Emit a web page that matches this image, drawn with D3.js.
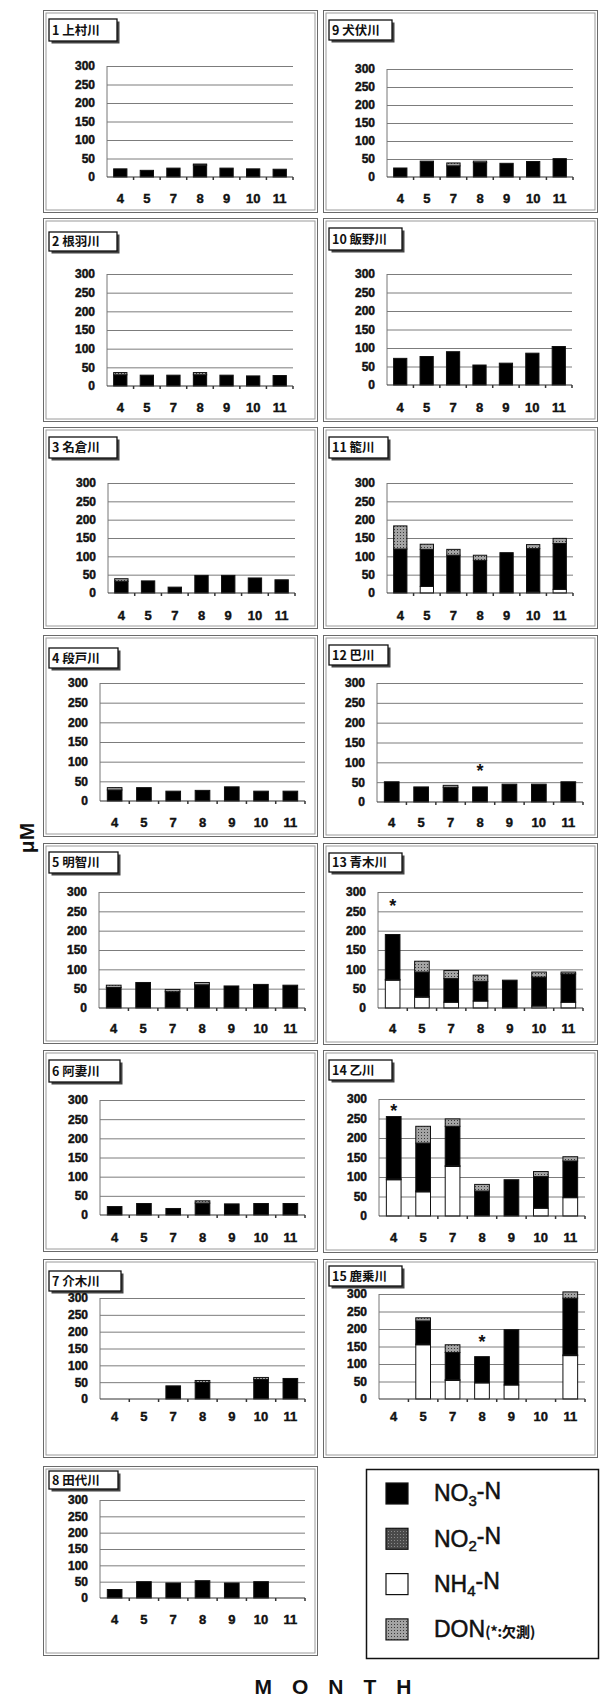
<!DOCTYPE html>
<html><head><meta charset="utf-8">
<script src="https://cdn.jsdelivr.net/npm/d3@7"></script>
<style>
body{margin:0;background:#fff}
svg{display:block}
</style>
</head><body>
<script>
// Sampling months and river names (panel titles)
const months = ["4", "5", "7", "8", "9", "10", "11"];
const rivers = ["1 上村川", "2 根羽川", "3 名倉川", "4 段戸川", "5 明智川", "6 阿妻川", "7 介木川", "8 田代川",
                "9 犬伏川", "10 飯野川", "11 籠川", "12 巴川", "13 青木川", "14 乙川", "15 鹿乗川"];
const yTicks = [0, 50, 100, 150, 200, 250, 300];

// Concentrations in μM, one row per river, one value per month (null = not sampled)
const nh4 = [
  [0, 0, 0, 0, 0, 0, 0],
  [0, 0, 0, 0, 0, 0, 0],
  [0, 0, 0, 0, 0, 0, 0],
  [0, 0, 0, 0, 0, 0, 0],
  [0, 0, 0, 0, 0, 0, 0],
  [0, 0, 0, 0, 0, 0, 0],
  [null, null, 0, 0, null, 0, 0],
  [0, 0, 0, 0, 0, 0, null],
  [0, 0, 0, 0, 0, 0, 0],
  [0, 0, 0, 0, 0, 0, 0],
  [0, 18, 3, 0, 0, 3, 10],
  [0, 0, 0, 0, 0, 0, 0],
  [72, 28, 15, 18, 0, 5, 15],
  [93, 62, 127, 0, 0, 20, 47],
  [null, 155, 53, 46, 40, null, 124]
];
const no2 = [
  [0, 0, 0, 0, 0, 0, 0],
  [0, 0, 0, 0, 0, 0, 0],
  [0, 0, 0, 0, 0, 0, 0],
  [0, 0, 0, 0, 0, 0, 0],
  [0, 0, 0, 0, 0, 0, 0],
  [0, 0, 0, 0, 0, 0, 0],
  [null, null, 0, 0, null, 0, 0],
  [0, 0, 0, 0, 0, 0, null],
  [0, 0, 0, 0, 0, 0, 0],
  [0, 0, 0, 0, 0, 0, 0],
  [0, 0, 0, 0, 0, 0, 0],
  [0, 0, 0, 0, 0, 0, 0],
  [2, 2, 0, 0, 0, 0, 0],
  [2, 2, 2, 0, 0, 0, 0],
  [null, 2, 2, 0, 0, null, 2]
];
const no3 = [
  [22, 18, 24, 32, 24, 22, 21],
  [30, 29, 29, 30, 29, 27, 28],
  [32, 33, 16, 48, 48, 41, 36],
  [28, 34, 25, 27, 36, 25, 25],
  [53, 66, 42, 60, 57, 61, 59],
  [22, 30, 17, 31, 29, 30, 30],
  [null, null, 39, 49, null, 58, 61],
  [26, 50, 46, 53, 46, 50, null],
  [25, 44, 31, 40, 38, 43, 51],
  [72, 77, 90, 54, 59, 86, 104],
  [120, 101, 100, 89, 110, 118, 125],
  [51, 38, 37, 38, 45, 45, 51],
  [116, 63, 61, 51, 72, 75, 73],
  [160, 123, 101, 64, 93, 81, 94],
  [null, 66, 78, 75, 158, null, 162]
];
const don = [
  [0, 0, 0, 3, 0, 0, 0],
  [6, 0, 0, 6, 0, 0, 0],
  [7, 0, 0, 0, 0, 0, 0],
  [6, 0, 0, 0, 0, 0, 0],
  [6, 0, 6, 6, 0, 0, 0],
  [0, 0, 0, 6, 0, 0, 0],
  [null, null, 0, 6, null, 6, 0],
  [0, 0, 0, 0, 0, 0, null],
  [0, 0, 8, 4, 0, 0, 0],
  [0, 0, 0, 0, 0, 0, 0],
  [63, 14, 16, 14, 0, 11, 14],
  [0, 0, 5, 0, 0, 0, 0],
  [0, 28, 21, 16, 0, 13, 5],
  [0, 43, 19, 17, 0, 13, 11],
  [null, 9, 22, 0, 0, null, 18]
];
// DON not measured: [river index, month index, height of the * mark in μM]
const donMissing = [[11, 3, 88], [12, 0, 274], [13, 0, 280], [14, 3, 173]];

const seriesKeys = ["NH4", "NO2", "NO3", "DON"];       // stacking order, bottom to top
const legendKeys = ["NO3", "NO2", "NH4", "DON"];       // legend order

// Panel frames: box, title box, plot area (x0, y at 300, x1, y at 0), month label line
const L = {x0: 43, x1: 318}, R = {x0: 323, x1: 598};
const panels = [
  {c: L, y0: 10,   y1: 213,  t: [19, 41, 117],    p: [107, 66, 293, 177],   m: 198},
  {c: L, y0: 218,  y1: 422,  t: [232, 251, 117],  p: [107, 274, 293, 386],  m: 407},
  {c: L, y0: 427,  y1: 629,  t: [437, 458, 117],  p: [108, 483, 295, 593],  m: 615},
  {c: L, y0: 635,  y1: 837,  t: [648, 668, 118],  p: [100, 683, 305, 801],  m: 822},
  {c: L, y0: 843,  y1: 1044, t: [852, 873, 118],  p: [99, 892, 305, 1008],  m: 1028},
  {c: L, y0: 1050, y1: 1252, t: [1060, 1082, 120],p: [100, 1100, 305, 1215],m: 1237},
  {c: L, y0: 1259, y1: 1458, t: [1271, 1291, 121],p: [100, 1298, 305, 1399],m: 1416},
  {c: L, y0: 1466, y1: 1656, t: [1471, 1489, 118],p: [100, 1500, 305, 1598],m: 1619},
  {c: R, y0: 10,   y1: 213,  t: [20, 40, 392],    p: [387, 69, 573, 177],   m: 198},
  {c: R, y0: 218,  y1: 422,  t: [228, 250, 402],  p: [387, 274, 572, 385],  m: 407},
  {c: R, y0: 427,  y1: 629,  t: [437, 458, 388],  p: [387, 483, 573, 593],  m: 615},
  {c: R, y0: 635,  y1: 838,  t: [645, 665, 388],  p: [377, 683, 583, 802],  m: 822},
  {c: R, y0: 843,  y1: 1045, t: [853, 872, 402],  p: [378, 892, 583, 1008], m: 1028},
  {c: R, y0: 1050, y1: 1253, t: [1060, 1080, 392],p: [379, 1099, 585, 1216],m: 1237},
  {c: R, y0: 1259, y1: 1458, t: [1266, 1286, 402],p: [379, 1294, 585, 1399],m: 1416}
];

const W = 604, H = 1700;
const svg = d3.select("body").append("svg").attr("width", W).attr("height", H)
  .style("font-family", "'Liberation Sans', Arial, sans-serif");

// Fill patterns for the grey series
const defs = svg.append("defs");
const pNo2 = defs.append("pattern").attr("id", "pat-no2").attr("patternUnits", "userSpaceOnUse")
  .attr("width", 3).attr("height", 3);
pNo2.append("rect").attr("width", 3).attr("height", 3).attr("fill", "#4a4a4a");
pNo2.append("rect").attr("x", 1).attr("y", 1).attr("width", 1).attr("height", 1).attr("fill", "#8a8a8a");
const pDon = defs.append("pattern").attr("id", "pat-don").attr("patternUnits", "userSpaceOnUse")
  .attr("width", 3).attr("height", 3);
pDon.append("rect").attr("width", 3).attr("height", 3).attr("fill", "#a4a4a4");
pDon.append("rect").attr("x", 1).attr("y", 1).attr("width", 1).attr("height", 1).attr("fill", "#3a3a3a");

const fills = {NO3: "#000", NO2: "url(#pat-no2)", NH4: "#fff", DON: "url(#pat-don)"};

const stack = d3.stack().keys(seriesKeys).value((d, k) => d[k] || 0);

panels.forEach((pn, i) => {
  const g = svg.append("g");
  const bx0 = pn.c.x0, bx1 = pn.c.x1;

  // double frame
  g.append("rect").attr("x", bx0 + 0.5).attr("y", pn.y0 + 0.5)
    .attr("width", bx1 - bx0 - 1).attr("height", pn.y1 - pn.y0 - 1)
    .attr("fill", "none").attr("stroke", "#6a6a6a").attr("stroke-width", 1);
  g.append("rect").attr("x", bx0 + 3).attr("y", pn.y0 + 3)
    .attr("width", bx1 - bx0 - 6).attr("height", pn.y1 - pn.y0 - 6)
    .attr("fill", "none").attr("stroke", "#9a9a9a").attr("stroke-width", 1);

  // title box with shadow
  const tx0 = bx0 + 6, [ty0, ty1, tx1] = pn.t;
  g.append("rect").attr("x", tx0 + 2.5).attr("y", ty0 + 2.5).attr("width", tx1 - tx0).attr("height", ty1 - ty0)
    .attr("fill", "#444");
  g.append("rect").attr("x", tx0).attr("y", ty0).attr("width", tx1 - tx0).attr("height", ty1 - ty0)
    .attr("fill", "#fff").attr("stroke", "#111").attr("stroke-width", 1.3);
  g.append("text").attr("x", tx0 + 3).attr("y", (ty0 + ty1) / 2).attr("dy", "0.36em")
    .style("font-family", "'Noto Sans CJK JP', 'Liberation Sans', sans-serif")
    .style("font-weight", 700).style("font-size", "12.5px").attr("fill", "#111")
    .text(rivers[i]);

  const [px0, pyT, px1, pyB] = pn.p;
  const x = d3.scaleBand().domain(months).range([px0, px1]).paddingInner(0.5).paddingOuter(0.25);
  const y = d3.scaleLinear().domain([0, 300]).range([pyB, pyT]);

  // grid lines
  const grid = g.append("g").attr("transform", `translate(${px0},0)`)
    .call(d3.axisLeft(y).tickValues(yTicks.slice(1)).tickSize(-(px1 - px0)).tickFormat(""));
  grid.select(".domain").remove();
  grid.selectAll("line").attr("stroke", "#7c7c7c").attr("stroke-width", 1);

  // y labels
  const ya = g.append("g").attr("transform", `translate(${px0},0)`)
    .call(d3.axisLeft(y).tickValues(yTicks).tickSize(0).tickPadding(12));
  ya.select(".domain").remove();
  ya.selectAll("text").attr("fill", "#111").attr("stroke", "#111").attr("stroke-width", 0.45)
    .style("font-size", "12px").style("font-weight", 700)
    .style("font-family", "'Liberation Sans', Arial, sans-serif");

  // y axis line
  g.append("line").attr("x1", px0).attr("x2", px0).attr("y1", pyT).attr("y2", pyB)
    .attr("stroke", "#777").attr("stroke-width", 1);

  // stacked bars
  const rows = months.map((m, j) => ({
    month: m,
    present: no3[i][j] !== null,
    NH4: nh4[i][j], NO2: no2[i][j], NO3: no3[i][j], DON: don[i][j]
  }));
  const layers = stack(rows);
  layers.forEach(layer => {
    const key = layer.key;
    g.append("g").selectAll("rect")
      .data(layer.filter(d => d.data.present && d[1] - d[0] > 0))
      .join("rect")
      .attr("x", d => x(d.data.month))
      .attr("width", x.bandwidth())
      .attr("y", d => y(d[1]))
      .attr("height", d => y(d[0]) - y(d[1]))
      .attr("fill", fills[key])
      .attr("stroke", "#111").attr("stroke-width", 1);
  });

  // baseline and category ticks
  g.append("line").attr("x1", px0).attr("x2", px1).attr("y1", pyB).attr("y2", pyB)
    .attr("stroke", "#333").attr("stroke-width", 1.2);
  const step = x.step();
  g.append("g").selectAll("line").data(d3.range(1, months.length + 1)).join("line")
    .attr("x1", k => px0 + k * step).attr("x2", k => px0 + k * step)
    .attr("y1", pyB).attr("y2", pyB + 3).attr("stroke", "#333").attr("stroke-width", 1.5);

  // month labels
  const xa = g.append("g").attr("transform", `translate(0,${pyB})`)
    .call(d3.axisBottom(x).tickSize(0));
  xa.select(".domain").remove();
  xa.selectAll("text").attr("y", pn.m - pyB).attr("dy", "0.36em").attr("fill", "#111")
    .attr("stroke", "#111").attr("stroke-width", 0.4)
    .style("font-size", "13px").style("font-weight", 700)
    .style("font-family", "'Liberation Sans', Arial, sans-serif");

  // * = DON not measured
  donMissing.filter(s => s[0] === i).forEach(s => {
    g.append("text").attr("x", x(months[s[1]]) + x.bandwidth() / 2).attr("y", y(s[2]))
      .attr("dy", "0.55em").attr("text-anchor", "middle")
      .style("font-size", "18px").style("font-weight", 700).attr("fill", "#111").text("*");
  });
});

// Legend
const lg = svg.append("g");
lg.append("rect").attr("x", 366.5).attr("y", 1469.5).attr("width", 232).attr("height", 189)
  .attr("fill", "#fff").attr("stroke", "#111").attr("stroke-width", 1.5);
const legendLabels = {NO3: ["NO", "3", "-N"], NO2: ["NO", "2", "-N"], NH4: ["NH", "4", "-N"], DON: ["DON", "", ""]};
legendKeys.forEach((k, r) => {
  const cy = 1493 + r * 45.3;
  lg.append("rect").attr("x", 386).attr("y", cy - 10).attr("width", 22).attr("height", 21)
    .attr("fill", fills[k]).attr("stroke", "#111").attr("stroke-width", 1.2);
  const t = lg.append("text").attr("x", 434).attr("y", cy).attr("dy", "0.36em")
    .style("font-size", "23px").attr("fill", "#111").attr("stroke", "#111").attr("stroke-width", 0.5);
  const [a, sub, b] = legendLabels[k];
  t.append("tspan").text(a);
  if (sub) {
    t.append("tspan").attr("dy", "0.3em").style("font-size", "15px").text(sub);
    t.append("tspan").attr("dy", "-0.3em").text(b);
  } else {
    t.append("tspan").style("font-size", "14px").style("font-weight", 700).attr("stroke-width", 0.2)
      .style("font-family", "'Noto Sans CJK JP', sans-serif").text("(*:欠測)");
  }
});

// Axis titles
svg.append("text").attr("transform", "translate(26,838) rotate(-90)")
  .attr("text-anchor", "middle").attr("dy", "0.36em")
  .style("font-size", "21px").style("font-weight", 700).attr("fill", "#111").text("μM");
svg.append("text").attr("x", 343).attr("y", 1686).attr("text-anchor", "middle").attr("dy", "0.36em")
  .style("font-size", "21px").style("font-weight", 700).style("letter-spacing", "20px")
  .attr("fill", "#111").text("MONTH");
</script>
</body></html>
